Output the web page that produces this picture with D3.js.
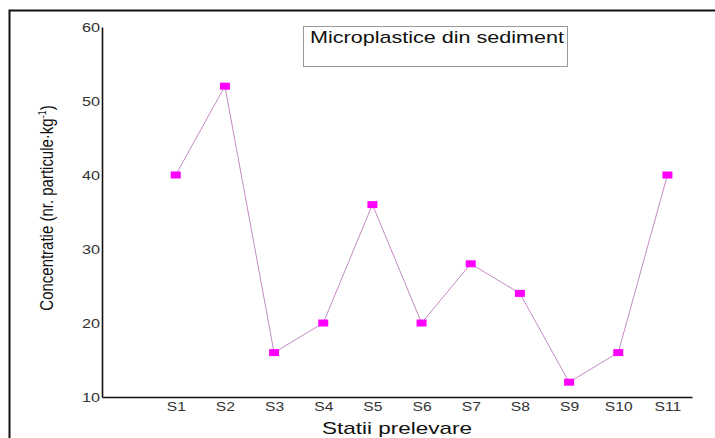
<!DOCTYPE html>
<html><head><meta charset="utf-8">
<script src="https://cdn.jsdelivr.net/npm/d3@7"></script>
<style>body{margin:0;background:#fff;}svg{display:block;font-family:"Liberation Sans",Arial,sans-serif;}</style>
</head><body>
<svg id="c" width="715" height="438"></svg>
<script>
const categories = ["S1","S2","S3","S4","S5","S6","S7","S8","S9","S10","S11"];
const values = [40,52,16,20,36,20,28,24,12,16,40];
const yTicks = [10,20,30,40,50,60];
const title = "Microplastice din sediment";
const xTitle = "Statii prelevare";

const svg = d3.select("#c");
// outer frame
svg.append("path").attr("d","M9.5,445V10.5H720").attr("fill","none").attr("stroke","#111").attr("stroke-width",2);

const x = d3.scaleLinear().domain([-0.5, 11.5]).range([102, 692]);
const y = d3.scaleLinear().domain([10, 60]).range([397, 27]);

function stretch(sel, k){
  sel.each(function(){ const w=this.getComputedTextLength(); this.setAttribute("textLength", w*k); this.setAttribute("lengthAdjust","spacingAndGlyphs"); });
}

// y axis
const yAx = svg.append("g").attr("transform","translate(102,0)")
  .call(d3.axisLeft(y).tickValues(yTicks).tickSize(0).tickPadding(2));
yAx.select(".domain").attr("stroke","#111").attr("stroke-width",1.6);
yAx.selectAll("text").attr("font-size",13.5).attr("fill","#333").attr("font-family","Liberation Sans, Arial, sans-serif").call(stretch,1.2);

// x axis
const xAx = svg.append("g").attr("transform","translate(0,397)")
  .call(d3.axisBottom(x).tickValues(d3.range(1,12)).tickFormat(i=>categories[i-1]).tickSize(0).tickPadding(5));
xAx.select(".domain").attr("stroke","#111").attr("stroke-width",1.6);
xAx.selectAll("text").attr("font-size",12.5).attr("fill","#333").attr("font-family","Liberation Sans, Arial, sans-serif").call(stretch,1.25);

// line
const line = d3.line().x((d,i)=>x(i+1)).y(d=>y(d));
svg.append("path").datum(values).attr("d",line).attr("fill","none").attr("stroke","#c58bc5").attr("stroke-width",1);

// markers
svg.selectAll("rect.m").data(values).join("rect").attr("class","m")
  .attr("x",(d,i)=>x(i+1)-5).attr("y",d=>y(d)-3.5).attr("width",10).attr("height",7).attr("fill","#ff00ff");

// legend/title box
svg.append("rect").attr("x",303.5).attr("y",26.5).attr("width",264).attr("height",40).attr("fill","#fff").attr("stroke","#999").attr("stroke-width",1);
svg.append("text").attr("x",310).attr("y",43).attr("font-size",17).attr("fill","#111")
  .attr("textLength",254).attr("lengthAdjust","spacingAndGlyphs").text(title);

// axis titles
svg.append("text").attr("x",322).attr("y",434).attr("font-size",17).attr("fill","#111")
  .attr("textLength",150).attr("lengthAdjust","spacingAndGlyphs").text(xTitle);
const yt = svg.append("text").attr("transform","translate(53,208) scale(1.2,1) rotate(-90)").attr("text-anchor","middle").attr("font-size",15).attr("fill","#111");
yt.append("tspan").text("Concentratie (nr. particule·kg");
yt.append("tspan").attr("font-size",9).attr("dy",-6).text("-1");
yt.append("tspan").attr("dy",6).text(")");
</script>
</body></html>
